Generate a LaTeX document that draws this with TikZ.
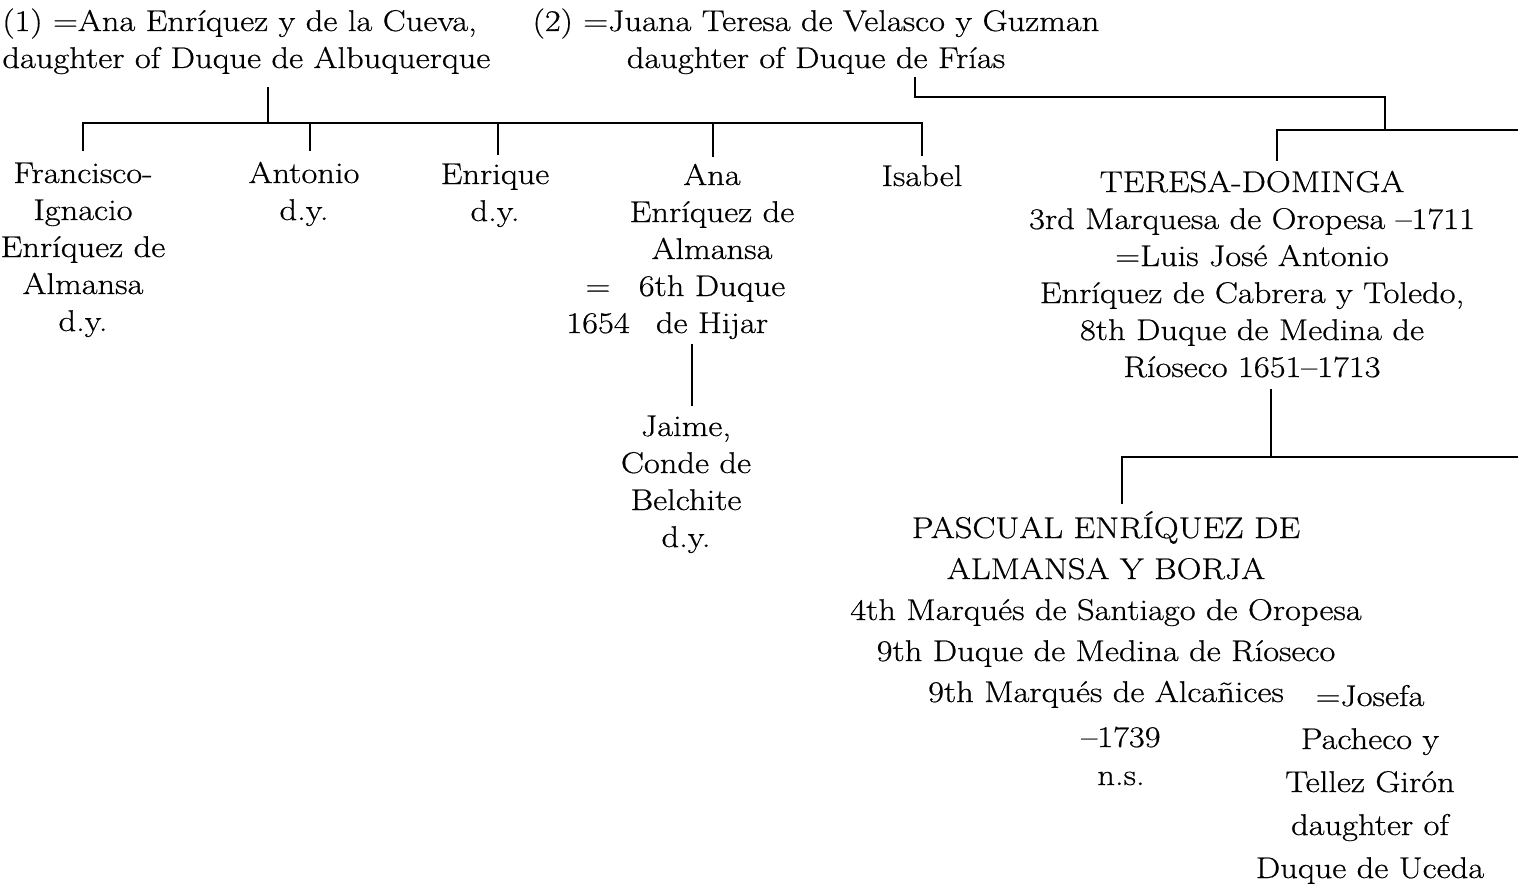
\documentclass[tikz,border=0pt]{standalone}
\usepackage{fontspec}
\setmainfont{Latin Modern Roman}[FakeStretch=1.15, FakeBold=0.6]
\begin{document}
\begin{tikzpicture}[x=0.5pt,y=-0.5pt,
  txt/.style={font=\fontsize{15}{18.5}\selectfont, align=center, inner sep=0pt, anchor=base},
  conn/.style={line width=1.4pt, line cap=rect}]
\useasboundingbox (0,0) rectangle (1518,888);
% spouses (anchor = baseline of last line)
\node[txt, align=left, anchor=base west] (sp1) at (2,68) {(1) =Ana Enríquez y de la Cueva,\\daughter of Duque de Albuquerque};
\node[txt] (sp2) at (816,68) {(2) =Juana Teresa de Velasco y Guzman\\daughter of Duque de Frías};
% children of first marriage
\node[txt] (fran) at (83,331) {Francisco-\\Ignacio\\Enríquez de\\Almansa\\d.y.};
\node[txt] (anto) at (304,220) {Antonio\\d.y.};
\node[txt] (enri) at (495,221) {Enrique\\d.y.};
\node[txt] (ana) at (712,333) {Ana\\Enríquez de\\Almansa\\6th Duque\\de Hijar};
\node[txt] (anam) at (598,333) {=\\1654};
\node[txt] (jaime) at (686,547) {Jaime,\\Conde de\\Belchite\\d.y.};
\node[txt] (isa) at (922,186) {Isabel};
% second marriage
\node[txt] (teresa) at (1252,377) {TERESA-DOMINGA\\3rd Marquesa de Oropesa –1711\\=Luis José Antonio\\Enríquez de Cabrera y Toledo,\\8th Duque de Medina de\\Ríoseco 1651–1713};
\node[txt, font=\fontsize{15}{20.5}\selectfont] (pascual) at (1106,702) {PASCUAL ENRÍQUEZ DE\\ALMANSA Y BORJA\\4th Marqués de Santiago de Oropesa\\9th Duque de Medina de Ríoseco\\9th Marqués de Alcañices};
\node[txt, font=\fontsize{15}{19}\selectfont] (pdate) at (1121,785) {–1739\\n.s.};
\node[txt, font=\fontsize{15}{21.5}\selectfont] (josefa) at (1370,878) {=Josefa\\Pacheco y\\Tellez Girón\\daughter of\\Duque de Uceda};
% coordinates
\coordinate (sp1d) at (268,88);
\coordinate (bar) at (268,123);
\coordinate (barL) at (83,123);
\coordinate (barR) at (922,123);
\coordinate (franT) at (83,150);
\coordinate (antoT) at (310,150);
\coordinate (enriT) at (498,154);
\coordinate (anaT) at (713,156);
\coordinate (isaT) at (922,155);
\coordinate (anaB) at (692,345);
\coordinate (jaimeT) at (692,405);
\coordinate (sp2d) at (915,78);
\coordinate (sp2c) at (915,97);
\coordinate (sp2e) at (1385,97);
\coordinate (bar2) at (1385,130);
\coordinate (bar2L) at (1277,130);
\coordinate (bar2R) at (1518,130);
\coordinate (teresaT) at (1277,160);
\coordinate (teresaB) at (1271,390);
\coordinate (bar3) at (1271,457);
\coordinate (bar3L) at (1122,457);
\coordinate (bar3R) at (1518,457);
\coordinate (pascualT) at (1122,503);
% connectors
\draw[conn] (sp1d) -- (bar);
\draw[conn] (barL) -- (barR);
\draw[conn] (barL) -- (franT);
\draw[conn] (antoT |- barL) -- (antoT);
\draw[conn] (enriT |- barL) -- (enriT);
\draw[conn] (anaT |- barL) -- (anaT);
\draw[conn] (barR) -- (isaT);
\draw[conn] (anaB) -- (jaimeT);
\draw[conn] (sp2d) -- (sp2c) -- (sp2e) -- (bar2);
\draw[conn] (bar2L) -- (bar2R);
\draw[conn] (bar2L) -- (teresaT);
\draw[conn] (teresaB) -- (bar3);
\draw[conn] (bar3L) -- (bar3R);
\draw[conn] (bar3L) -- (pascualT);
\end{tikzpicture}
\end{document}
